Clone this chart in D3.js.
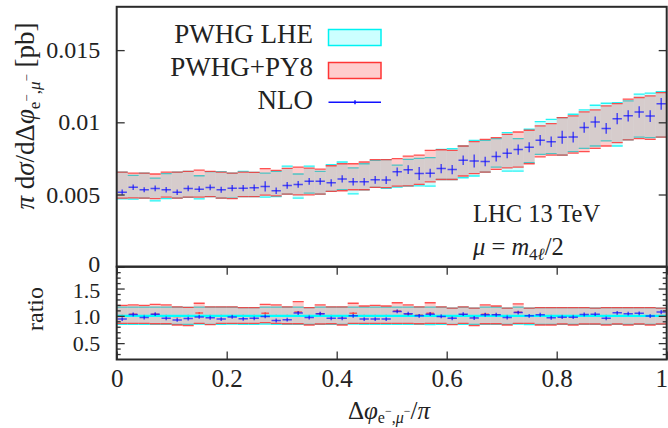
<!DOCTYPE html>
<html><head><meta charset="utf-8">
<script src="https://cdn.jsdelivr.net/npm/d3@7"></script>
<style>
body{margin:0;background:#fff}
svg{display:block}
text{font-family:"Liberation Serif","Times New Roman",serif;fill:#222}
</style>
</head><body>
<svg id="c" width="668" height="428"></svg>
<script>
// ---------- DATA ----------
const binWidth = 0.02;
const binLeft = [0,0.02,0.04,0.06,0.08,0.1,0.12,0.14,0.16,0.18,0.2,0.22,0.24,0.26,0.28,0.3,0.32,0.34,0.36,0.38,
  0.4,0.42,0.44,0.46,0.48,0.5,0.52,0.54,0.56,0.58,0.6,0.62,0.64,0.66,0.68,0.7,0.72,0.74,0.76,0.78,
  0.8,0.82,0.84,0.86,0.88,0.9,0.92,0.94,0.96,0.98];

// PWHG LHE scale band [pb]
const lheHi = [0.00655,0.00632,0.00648,0.00614,0.00644,0.00655,0.00660,0.00630,0.00658,0.00658,
  0.00648,0.00660,0.00653,0.00648,0.00660,0.00697,0.00642,0.00697,0.00660,0.00706,
  0.00725,0.00685,0.00713,0.00736,0.00741,0.00704,0.00743,0.00750,0.00755,0.00813,
  0.00817,0.00836,0.00875,0.00875,0.00887,0.00929,0.00887,0.00952,0.01005,0.01021,
  0.01033,0.01056,0.01086,0.01118,0.01132,0.01137,0.01148,0.01195,0.01202,0.01213];
const lheLo = [0.00470,0.00468,0.00475,0.00456,0.00472,0.00475,0.00480,0.00470,0.00486,0.00475,
  0.00475,0.00486,0.00486,0.00482,0.00486,0.00503,0.00475,0.00509,0.00503,0.00521,
  0.00533,0.00505,0.00533,0.00549,0.00542,0.00551,0.00558,0.00560,0.00558,0.00604,
  0.00604,0.00616,0.00628,0.00655,0.00690,0.00662,0.00662,0.00720,0.00778,0.00783,
  0.00773,0.00797,0.00820,0.00836,0.00871,0.00836,0.00878,0.00898,0.00894,0.00898];
// PWHG+PY8 scale band [pb]
const py8Hi = [0.00655,0.00648,0.00648,0.00642,0.00655,0.00655,0.00660,0.00669,0.00660,0.00655,
  0.00648,0.00655,0.00653,0.00679,0.00667,0.00681,0.00690,0.00683,0.00676,0.00699,
  0.00713,0.00713,0.00725,0.00741,0.00741,0.00748,0.00766,0.00773,0.00806,0.00810,
  0.00806,0.00836,0.00866,0.00882,0.00894,0.00917,0.00933,0.00945,0.00975,0.00991,
  0.01033,0.01044,0.01072,0.01086,0.01114,0.01130,0.01160,0.01172,0.01183,0.01206];
const py8Lo = [0.00475,0.00477,0.00475,0.00472,0.00482,0.00475,0.00482,0.00482,0.00486,0.00475,
  0.00472,0.00486,0.00486,0.00496,0.00491,0.00503,0.00498,0.00498,0.00503,0.00521,
  0.00526,0.00533,0.00533,0.00549,0.00547,0.00558,0.00560,0.00570,0.00588,0.00604,
  0.00604,0.00628,0.00644,0.00655,0.00674,0.00685,0.00690,0.00713,0.00760,0.00773,
  0.00773,0.00787,0.00797,0.00820,0.00836,0.00859,0.00878,0.00887,0.00882,0.00898];
// NLO [pb] and its error
const nlo = [0.00516,0.00551,0.00533,0.00542,0.00533,0.00516,0.00542,0.00537,0.00549,0.00533,
  0.00544,0.00544,0.00547,0.00556,0.00526,0.00563,0.00570,0.00591,0.00591,0.00581,
  0.00608,0.00588,0.00588,0.00602,0.00600,0.00657,0.00672,0.00646,0.00648,0.00680,
  0.00673,0.00738,0.00732,0.00728,0.00763,0.00785,0.00811,0.00827,0.00876,0.00865,
  0.00896,0.00898,0.00964,0.01002,0.00958,0.01025,0.01045,0.01072,0.01043,0.01128];
const nloErr = [0.00018,0.00019,0.00018,0.00020,0.00019,0.00019,0.00020,0.00020,0.00020,0.00021,
  0.00021,0.00021,0.00022,0.00035,0.00022,0.00023,0.00024,0.00024,0.00024,0.00025,
  0.00025,0.00026,0.00026,0.00027,0.00027,0.00030,0.00030,0.00045,0.00031,0.00032,
  0.00032,0.00033,0.00045,0.00033,0.00034,0.00034,0.00035,0.00035,0.00036,0.00036,
  0.00045,0.00037,0.00037,0.00038,0.00038,0.00039,0.00039,0.00040,0.00040,0.00041];

// ratio panel (relative to PWHG LHE central)
const rLheHi = [1.16,1.16,1.16,1.16,1.16,1.16,1.155,1.16,1.16,1.16,1.16,1.15,1.15,1.16,1.16,1.16,1.16,1.15,1.16,1.16,
  1.16,1.16,1.16,1.16,1.16,1.16,1.16,1.16,1.16,1.16,1.14,1.16,1.14,1.16,1.16,1.14,1.16,1.14,1.15,1.15,
  1.15,1.15,1.15,1.14,1.15,1.15,1.15,1.15,1.15,1.14];
const rLheLo = [0.845,0.845,0.845,0.845,0.845,0.845,0.845,0.85,0.845,0.845,0.85,0.845,0.845,0.85,0.845,0.845,0.845,0.845,0.845,0.845,
  0.845,0.85,0.845,0.845,0.845,0.845,0.845,0.845,0.84,0.845,0.845,0.845,0.845,0.845,0.845,0.845,0.85,0.84,0.845,0.845,
  0.845,0.845,0.845,0.845,0.845,0.845,0.845,0.845,0.845,0.845];
const rPy8Hi = [1.19,1.20,1.19,1.21,1.20,1.165,1.155,1.23,1.165,1.165,1.165,1.15,1.15,1.21,1.20,1.165,1.26,1.15,1.20,1.165,
  1.165,1.23,1.18,1.19,1.18,1.24,1.20,1.165,1.24,1.165,1.14,1.165,1.14,1.20,1.18,1.14,1.22,1.14,1.15,1.15,
  1.15,1.15,1.15,1.14,1.15,1.15,1.15,1.15,1.15,1.14];
const rPy8Lo = [0.862,0.862,0.862,0.855,0.855,0.832,0.82,0.862,0.84,0.862,0.862,0.862,0.862,0.874,0.862,0.855,0.855,0.832,0.85,0.855,
  0.832,0.862,0.862,0.862,0.862,0.862,0.862,0.855,0.862,0.862,0.84,0.862,0.82,0.855,0.855,0.832,0.862,0.862,0.832,0.832,
  0.85,0.832,0.85,0.85,0.832,0.85,0.832,0.85,0.832,0.85];
const rPy8 = [1.0,1.03,1.0,1.03,1.0,0.99,1.0,1.05,1.0,1.0,1.0,1.0,1.0,1.045,1.0,1.0,1.07,1.0,1.04,1.0,
  0.99,1.045,1.0,1.0,1.0,1.09,1.03,1.015,1.045,1.0,0.99,1.02,0.99,1.03,1.02,1.0,1.065,1.0,1.0,1.0,
  1.0,1.0,1.0,1.0,1.0,1.0,1.0,1.0,1.0,1.0];
const rNlo = [0.94,1.025,0.97,1.03,0.955,0.925,0.95,0.98,0.965,0.94,0.98,0.945,0.955,0.99,0.915,0.93,1.05,0.97,1.04,0.955,
  0.955,1.0,0.94,0.94,0.94,1.08,1.04,1.0,1.03,0.99,0.955,1.03,0.96,1.02,1.02,0.97,1.06,1.0,1.02,0.965,
  0.975,0.975,1.025,1.03,0.955,1.055,1.04,1.045,0.995,1.07];
const rNloErr = 0.035;

// ticks
const xTickVals = [0,0.2,0.4,0.6,0.8,1];
const xTickLabels = ["0","0.2","0.4","0.6","0.8","1"];
const yTickVals = [0,0.005,0.01,0.015];
const yTickLabels = ["0","0.005","0.01","0.015"];
const rTickVals = [0.5,1.0,1.5];
const rTickLabels = ["0.5","1.0","1.5"];
const rMinorVals = [0.3,0.4,0.6,0.7,0.8,0.9,1.1,1.2,1.3,1.4,1.6,1.7,1.8];

const legendNames = ["PWHG LHE","PWHG+PY8","NLO"];

// ---------- DRAW ----------
const svg = d3.select("#c");
const X0=116.7, X1=666.7, YT=6.8, YM=266.7, YB=359.5;
const x = d3.scaleLinear().domain([0,1]).range([X0,X1]);
const y = d3.scaleLinear().domain([0,0.018]).range([YM,YT]);
const yr = d3.scaleLinear().domain([0.2,1.9]).range([YB,YM]);

const CYAN="#00f2f2", CYANF="#00ffff", RED="#ff3535", REDF="#ff0000", BLUE="#1010ff";

const defs = svg.append("defs");
defs.append("clipPath").attr("id","cm").append("rect").attr("x",X0).attr("y",YT).attr("width",X1-X0).attr("height",YM-YT);
defs.append("clipPath").attr("id","cr").append("rect").attr("x",X0).attr("y",YM).attr("width",X1-X0).attr("height",YB-YM);

function band(g, lo, hi, sc, fill, line){
  const d = binLeft.map((b,i)=>({x0:x(b), x1:x(b+binWidth), lo:lo[i], hi:hi[i]}));
  const gg = g.append("g");
  gg.selectAll("rect").data(d).join("rect")
    .attr("x",e=>e.x0).attr("width",e=>e.x1-e.x0)
    .attr("y",e=>sc(e.hi)).attr("height",e=>sc(e.lo)-sc(e.hi))
    .attr("fill",fill).attr("fill-opacity",0.2);
  const lg = gg.append("g").attr("stroke",line).attr("stroke-width",1.3).attr("stroke-opacity",0.85);
  lg.selectAll("line.t").data(d).join("line").attr("class","t")
    .attr("x1",e=>e.x0).attr("x2",e=>e.x1).attr("y1",e=>sc(e.hi)).attr("y2",e=>sc(e.hi));
  lg.selectAll("line.b").data(d).join("line").attr("class","b")
    .attr("x1",e=>e.x0).attr("x2",e=>e.x1).attr("y1",e=>sc(e.lo)).attr("y2",e=>sc(e.lo));
}
function crosses(g, vals, errs, sc, color, op, hfrac){
  const d = binLeft.map((b,i)=>({c:x(b+binWidth/2), h:(x(binWidth)-x(0))*hfrac/2, v:vals[i], e:(Array.isArray(errs)?errs[i]:errs)}));
  const gg = g.append("g").attr("stroke",color).attr("stroke-width",1.5).attr("stroke-opacity",op);
  gg.selectAll("line.h").data(d).join("line").attr("class","h")
    .attr("x1",e=>e.c-e.h).attr("x2",e=>e.c+e.h).attr("y1",e=>sc(e.v)).attr("y2",e=>sc(e.v));
  gg.selectAll("line.v").data(d).join("line").attr("class","v")
    .attr("x1",e=>e.c).attr("x2",e=>e.c).attr("y1",e=>sc(e.v-e.e)).attr("y2",e=>sc(e.v+e.e));
}

// main panel
const gm = svg.append("g").attr("clip-path","url(#cm)");
band(gm, lheLo, lheHi, y, CYANF, CYAN);
band(gm, py8Lo, py8Hi, y, REDF, RED);
crosses(gm, nlo, nloErr, y, BLUE, 0.7, 0.85);

// ratio panel
const gr = svg.append("g").attr("clip-path","url(#cr)");
band(gr, rLheLo, rLheHi, yr, CYANF, CYAN);
band(gr, rPy8Lo, rPy8Hi, yr, REDF, RED);
crosses(gr, rPy8, 0.02, yr, RED, 0.75, 0.7);
gr.append("line").attr("x1",X0).attr("x2",X1).attr("y1",yr(1)).attr("y2",yr(1))
  .attr("stroke","#00ffff").attr("stroke-width",2.4);
crosses(gr, rNlo, rNloErr, yr, BLUE, 0.7, 0.85);

// axes
function styleAxis(g, fs){
  g.select(".domain").remove();
  g.selectAll(".tick line").attr("stroke","#333").attr("stroke-width",1.3);
  g.selectAll(".tick text").attr("fill","#222").style("font-size",fs+"px")
    .style("font-family",'"Liberation Serif",serif');
}
const axL = svg.append("g").attr("transform",`translate(${X0},0)`)
  .call(d3.axisLeft(y).tickValues(yTickVals).tickSize(-8).tickPadding(16.5)
    .tickFormat((d,i)=>yTickLabels[i]));
styleAxis(axL, 24);
axL.selectAll(".tick text").attr("dy",(d)=> d===0 ? "0.22em" : "0.32em");
const axR = svg.append("g").attr("transform",`translate(${X1},0)`)
  .call(d3.axisRight(y).tickValues(yTickVals.slice(1)).tickSize(-8).tickFormat(""));
styleAxis(axR, 23);

const arL = svg.append("g").attr("transform",`translate(${X0},0)`)
  .call(d3.axisLeft(yr).tickValues(rTickVals).tickSize(-8).tickPadding(16.5)
    .tickFormat((d,i)=>rTickLabels[i]));
styleAxis(arL, 22);
arL.selectAll(".tick text").attr("dy",(d)=> d===1.5 ? "0.42em" : "0.34em");
const arLm = svg.append("g").attr("transform",`translate(${X0},0)`)
  .call(d3.axisLeft(yr).tickValues(rMinorVals).tickSize(-4).tickFormat(""));
styleAxis(arLm, 22);
const arR = svg.append("g").attr("transform",`translate(${X1},0)`)
  .call(d3.axisRight(yr).tickValues(rTickVals).tickSize(-8).tickFormat(""));
styleAxis(arR, 22);
const arRm = svg.append("g").attr("transform",`translate(${X1},0)`)
  .call(d3.axisRight(yr).tickValues(rMinorVals).tickSize(-4).tickFormat(""));
styleAxis(arRm, 22);

const axB = svg.append("g").attr("transform",`translate(0,${YB})`)
  .call(d3.axisBottom(x).tickValues(xTickVals).tickSize(-8).tickPadding(10)
    .tickFormat((d,i)=>xTickLabels[i]));
styleAxis(axB, 25);
axB.selectAll(".tick text").attr("dx",(d)=> d===1 ? "-0.22em" : null);
const axT = svg.append("g").attr("transform",`translate(0,${YM})`)
  .call(d3.axisTop(x).tickValues(xTickVals).tickSize(-8).tickFormat(""));
styleAxis(axT, 23);

// frames
svg.append("rect").attr("x",X0).attr("y",YT).attr("width",X1-X0).attr("height",YM-YT)
  .attr("fill","none").attr("stroke","#2a2a2a").attr("stroke-width",2);
svg.append("rect").attr("x",X0).attr("y",YM).attr("width",X1-X0).attr("height",YB-YM)
  .attr("fill","none").attr("stroke","#2a2a2a").attr("stroke-width",2);

// legend
const lg = svg.append("g");
const rowY = [43.3, 76.3, 109];
legendNames.forEach((n,i)=>{
  lg.append("text").attr("x",313).attr("y",rowY[i]).attr("text-anchor","end")
    .style("font-size","27px").text(n);
});
lg.append("rect").attr("x",328.5).attr("y",29.5).attr("width",52.5).attr("height",16)
  .attr("fill",CYANF).attr("fill-opacity",0.2).attr("stroke",CYAN).attr("stroke-width",1.5);
lg.append("rect").attr("x",328.5).attr("y",62.5).attr("width",52.5).attr("height",16)
  .attr("fill",REDF).attr("fill-opacity",0.2).attr("stroke",RED).attr("stroke-width",1.5);
lg.append("line").attr("x1",328.5).attr("x2",381).attr("y1",102.3).attr("y2",102.3)
  .attr("stroke",BLUE).attr("stroke-width",1.5);
lg.append("line").attr("x1",355).attr("x2",355).attr("y1",100.3).attr("y2",104.3)
  .attr("stroke",BLUE).attr("stroke-width",1.5);

// annotations
svg.append("text").attr("x",473).attr("y",222).style("font-size","24.5px").text("LHC 13 TeV");
const mu = svg.append("text").attr("x",473).attr("y",255).style("font-size","24.5px");
mu.append("tspan").attr("font-style","italic").text("μ");
mu.append("tspan").text(" = ");
mu.append("tspan").attr("font-style","italic").text("m");
mu.append("tspan").attr("dy",5).style("font-size","17px").text("4");
mu.append("tspan").attr("font-style","italic").style("font-size","17px").text("ℓ");
mu.append("tspan").attr("dy",-5).text("/2");

// y title
const yt = svg.append("text").attr("transform","translate(34,116) rotate(-90)")
  .attr("text-anchor","middle").style("font-size","27px");
yt.append("tspan").attr("font-style","italic").text("π");
yt.append("tspan").text(" d");
yt.append("tspan").attr("font-style","italic").text("σ");
yt.append("tspan").text("/dΔ");
yt.append("tspan").attr("font-style","italic").text("φ");
yt.append("tspan").attr("dy",6).style("font-size","17px").text("e");
yt.append("tspan").attr("dy",-9).style("font-size","13px").text("−");
yt.append("tspan").attr("dy",9).style("font-size","17px").text(",");
yt.append("tspan").attr("font-style","italic").style("font-size","17px").text("μ");
yt.append("tspan").attr("dy",-9).style("font-size","13px").text("−");
yt.append("tspan").attr("dy",3).text(" [pb]");

// ratio title
svg.append("text").attr("transform","translate(43,309) rotate(-90)")
  .attr("text-anchor","middle").style("font-size","24px").text("ratio");

// x title
const xt = svg.append("text").attr("x",389).attr("y",419).attr("text-anchor","middle").style("font-size","25px");
xt.append("tspan").text("Δ");
xt.append("tspan").attr("font-style","italic").text("φ");
xt.append("tspan").attr("dy",4).style("font-size","16px").text("e");
xt.append("tspan").attr("dy",-8).style("font-size","12px").text("−");
xt.append("tspan").attr("dy",8).style("font-size","16px").text(",");
xt.append("tspan").attr("font-style","italic").style("font-size","16px").text("μ");
xt.append("tspan").attr("dy",-8).style("font-size","12px").text("−");
xt.append("tspan").attr("dy",4).text("/");
xt.append("tspan").attr("font-style","italic").text("π");
</script>
</body></html>
